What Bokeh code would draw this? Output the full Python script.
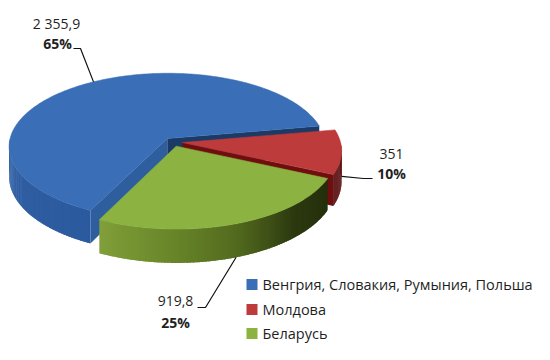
import numpy as np
from bokeh.plotting import figure
from bokeh.models import Range1d
from bokeh.core.properties import value
from bokeh.embed import file_html
from bokeh.resources import INLINE

# ---------------- data ----------------
categories = ["Венгрия, Словакия, Румыния, Польша", "Молдова", "Беларусь"]
amounts = [2355.9, 351, 919.8]

# ---------------- style / layout ----------------
TOP = ["#3A6FB7", "#BE3B3B", "#8CB341"]
WALL_STOPS = [
    [(0.0, (44, 90, 158)), (1.0, (66, 116, 186))],
    [(0.0, (100, 12, 12)), (1.0, (78, 2, 2))],
    [(0.0, (36, 46, 12)), (0.25, (44, 57, 15)), (0.5, (82, 106, 30)),
     (0.75, (106, 136, 42)), (1.0, (128, 160, 58))],
]
FACE_START = ["#2F5E9E", None, None]
FACE_END = ["#1B3A66", "#6E0E0E", None]
TEXT_COLOR = "#1f1f1f"
FONT = "Open Sans"

S, T, K = 158, 73, 0.108
CX, CY = 172.5, 141.5
DEPTH = 30
EXPLODE = 0.06
START = 206

LABEL_POS = [((56, 23), (57, 43)), ((391, 153), (391, 173)), ((175, 300), (175, 322))]
LEADER_ANCHOR = [[(73, 48), (80, 48)], [(372, 178), (363, 178)], [(197, 307), (205, 307)]]
LEADER_ANGLE_SHIFT = [6, 0, 0]
LEADER_DROP = [0.0, 0.8, 1.0]
LEG_X, LEG_Y = 251.5, [284, 309, 333]


def proj(X, Z, drop=0.0):
    w = 1 + K * Z
    return CX + S * X / w, CY - T * Z / w + drop / w


def pt(theta, mid, r=1.0, drop=0.0):
    th, m = np.radians(theta), np.radians(mid)
    X = EXPLODE * np.sin(m) + r * np.sin(th)
    Z = EXPLODE * np.cos(m) + r * np.cos(th)
    return proj(X, Z, drop)


def interp(stops, f):
    for (f0, c0), (f1, c1) in zip(stops[:-1], stops[1:]):
        if f0 <= f <= f1:
            u = (f - f0) / (f1 - f0) if f1 > f0 else 0
            c = [int(round(a + (b - a) * u)) for a, b in zip(c0, c1)]
            return "#%02x%02x%02x" % tuple(c)
    return "#%02x%02x%02x" % stops[-1][1]


def fmt(v):
    if float(v).is_integer():
        return f"{int(v):,}".replace(",", " ")
    return f"{v:,.1f}".replace(",", " ").replace(".", ",")


total = sum(amounts)
fracs = [a / total for a in amounts]
bounds = []
acc = START
for f in fracs:
    bounds.append((acc, acc + 360 * f))
    acc += 360 * f

p = figure(width=534, height=344, x_range=Range1d(0, 534), y_range=Range1d(344, 0),
           x_axis_type=None, y_axis_type=None, toolbar_location=None,
           output_backend="svg", min_border=0)
p.outline_line_color = None
p.grid.visible = False

order = sorted(range(3), key=lambda i: -np.cos(np.radians((bounds[i][0] + bounds[i][1]) / 2)))

# side parts
for i in order:
    a, b = bounds[i]
    mid = (a + b) / 2
    xs, ys, cs = [], [], []
    for ang, norm, col in ((a, a - 90, FACE_START[i]), (b, b + 90, FACE_END[i])):
        if col is not None and np.cos(np.radians(norm)) < 0:
            v0 = pt(ang, mid, 0.0); r0 = pt(ang, mid, 1.0)
            r1 = pt(ang, mid, 1.0, DEPTH); v1 = pt(ang, mid, 0.0, DEPTH)
            xs.append([v0[0], r0[0], r1[0], v1[0]])
            ys.append([v0[1], r0[1], r1[1], v1[1]])
            cs.append(col)
    for n in range(-1, 3):
        lo, hi = max(a, 90 + 360 * n), min(b, 270 + 360 * n)
        if lo < hi:
            th = np.linspace(lo, hi, 90)
            step = th[1] - th[0]
            for j in range(len(th) - 1):
                t0 = th[j]
                t1 = min(th[j + 1] + 0.7 * step, hi)
                seg = np.linspace(t0, t1, 4)
                tx, ty = pt(seg, mid)
                bx, by = pt(seg[::-1], mid, 1.0, DEPTH)
                xs.append(list(np.r_[tx, bx]))
                ys.append(list(np.r_[ty, by]))
                f = ((th[j] + th[j + 1]) / 2 - a) / (b - a)
                cs.append(interp(WALL_STOPS[i], f))
    if xs:
        p.patches(xs, ys, fill_color=cs, line_color=None)

# top surfaces
for i in order:
    a, b = bounds[i]
    mid = (a + b) / 2
    th = np.linspace(a, b, 200)
    vx, vy = pt(0, mid, 0.0)
    rx, ry = pt(th, mid)
    p.patch(np.r_[vx, rx], np.r_[vy, ry], fill_color=TOP[i], line_color=TOP[i], line_width=0.6)

# leader lines and labels
for i in range(3):
    a, b = bounds[i]
    mid = (a + b) / 2
    ex, ey = pt(mid + LEADER_ANGLE_SHIFT[i], mid, 1.0, DEPTH * LEADER_DROP[i])
    (x0, y0), (x1, y1) = LEADER_ANCHOR[i]
    p.line([x0, x1, ex], [y0, y1, ey], line_color="#111111", line_width=1.2)
    (vx_, vy_), (px_, py_) = LABEL_POS[i]
    p.text(x=[vx_], y=[vy_], text=[fmt(amounts[i])], text_font=value(FONT),
           text_font_size="14px", text_color=TEXT_COLOR, text_align="center",
           text_baseline="middle")
    p.text(x=[px_], y=[py_], text=[f"{round(fracs[i] * 100)}%"], text_font=value(FONT),
           text_font_size="14px", text_font_style="bold", text_color=TEXT_COLOR,
           text_align="center", text_baseline="middle")

# legend
p.scatter(x=[LEG_X] * 3, y=LEG_Y, marker="square", size=11, fill_color=TOP, line_color=None)
p.text(x=[LEG_X + 10.5] * 3, y=LEG_Y, text=categories, text_font=value(FONT),
       text_font_size="14.5px", text_color=TEXT_COLOR, text_align="left", text_baseline="middle")

open("out.html", "w").write(file_html(p, INLINE))
